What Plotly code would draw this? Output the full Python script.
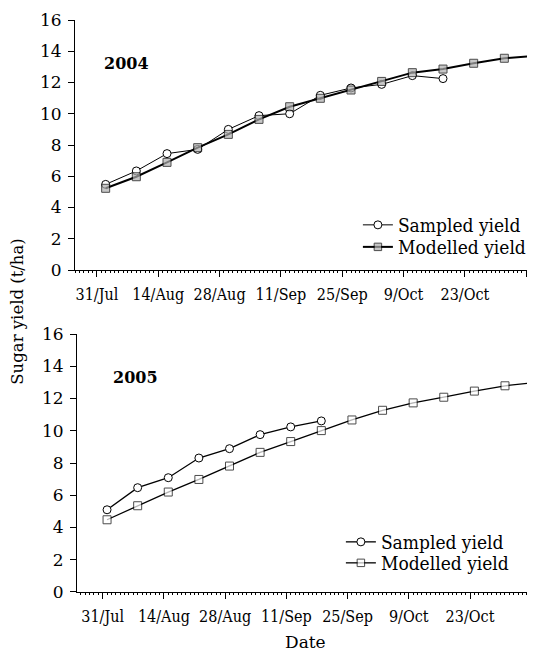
import plotly.graph_objects as go

# ---------------- data ----------------
dates_2004_sampled = ["2004-08-02", "2004-08-09", "2004-08-16", "2004-08-23", "2004-08-30",
                      "2004-09-06", "2004-09-13", "2004-09-20", "2004-09-27", "2004-10-04",
                      "2004-10-11", "2004-10-18"]
sampled_2004 = [5.48, 6.34, 7.45, 7.72, 9.00, 9.88, 10.00, 11.18, 11.65, 11.88, 12.44, 12.25]

dates_2004_modelled = ["2004-08-02", "2004-08-09", "2004-08-16", "2004-08-23", "2004-08-30",
                       "2004-09-06", "2004-09-13", "2004-09-20", "2004-09-27", "2004-10-04",
                       "2004-10-11", "2004-10-18", "2004-10-25", "2004-11-01", "2004-11-08"]
modelled_2004 = [5.23, 5.97, 6.89, 7.83, 8.68, 9.64, 10.45, 10.99, 11.52, 12.07,
                 12.63, 12.86, 13.23, 13.55, 13.70]

dates_2005_sampled = ["2005-08-01", "2005-08-08", "2005-08-15", "2005-08-22", "2005-08-29",
                      "2005-09-05", "2005-09-12", "2005-09-19"]
sampled_2005 = [5.10, 6.47, 7.09, 8.31, 8.89, 9.76, 10.24, 10.61]

dates_2005_modelled = ["2005-08-01", "2005-08-08", "2005-08-15", "2005-08-22", "2005-08-29",
                       "2005-09-05", "2005-09-12", "2005-09-19", "2005-09-26", "2005-10-03",
                       "2005-10-10", "2005-10-17", "2005-10-24", "2005-10-31", "2005-11-07"]
modelled_2005 = [4.48, 5.35, 6.20, 6.98, 7.81, 8.66, 9.33, 10.01, 10.67, 11.27,
                 11.73, 12.08, 12.46, 12.79, 13.00]

y_ticks = [0, 2, 4, 6, 8, 10, 12, 14, 16]
series_names = ["Sampled yield", "Modelled yield"]
panel_labels = ["2004", "2005"]
y_title = "Sugar yield (t/ha)"
x_title = "Date"

# ---------------- style ----------------
FONT = "DejaVu Serif"
FONT_C = "DejaVu Serif Condensed"
DAY_MS = 86400000

def msizes(n, size, hide_last):
    s = [size] * n
    if hide_last:
        s[-1] = 0
    return s

fig = go.Figure()

fig.add_trace(go.Scatter(
    x=dates_2004_sampled, y=sampled_2004, name=series_names[0], mode="lines+markers",
    line=dict(color="black", width=1),
    marker=dict(symbol="circle", size=8, color="white", line=dict(color="black", width=1)),
    xaxis="x", yaxis="y", legend="legend"))
fig.add_trace(go.Scatter(
    x=dates_2004_modelled, y=modelled_2004, name=series_names[1], mode="lines+markers",
    line=dict(color="black", width=2),
    marker=dict(symbol="square", size=msizes(len(modelled_2004), 8, True), color="#b0b0b0",
                line=dict(color="black", width=1)),
    xaxis="x", yaxis="y", legend="legend2"))

fig.add_trace(go.Scatter(
    x=dates_2005_sampled, y=sampled_2005, name=series_names[0], mode="lines+markers",
    line=dict(color="black", width=1.3),
    marker=dict(symbol="circle", size=8, color="white", line=dict(color="black", width=1)),
    xaxis="x2", yaxis="y2", legend="legend3"))
fig.add_trace(go.Scatter(
    x=dates_2005_modelled, y=modelled_2005, name=series_names[1], mode="lines+markers",
    line=dict(color="black", width=1.3),
    marker=dict(symbol="square", size=msizes(len(modelled_2005), 8, True), color="white",
                line=dict(color="black", width=1)),
    xaxis="x2", yaxis="y2", legend="legend4"))

def xaxis_cfg(rng, tick0, domain, anchor):
    return dict(
        type="date", range=rng, domain=domain, anchor=anchor,
        tick0=tick0, dtick=14 * DAY_MS, tickformat="%-d/%b", tickangle=0,
        ticks="outside", ticklen=6, tickwidth=1, tickcolor="black",
        ticklabelstandoff=4,
        minor=dict(ticks="outside", ticklen=2, tickwidth=1, tickcolor="black",
                   dtick=DAY_MS, tick0=tick0),
        showline=True, linecolor="black", linewidth=1,
        showgrid=False, zeroline=False,
        tickfont=dict(family=FONT_C, size=16, color="black"))

def yaxis_cfg(domain, anchor):
    return dict(
        range=[0, 16], domain=domain, anchor=anchor,
        tickvals=y_ticks, ticks="outside", ticklen=6, tickwidth=1, tickcolor="black",
        ticklabelstandoff=3,
        showline=True, linecolor="black", linewidth=1,
        showgrid=False, zeroline=False,
        tickfont=dict(family=FONT, size=17, color="black"))

legend_font = dict(family=FONT_C, size=19, color="black")

def leg(x, y):
    return dict(x=x, y=y, xanchor="left", yanchor="middle", font=legend_font,
                bgcolor="rgba(0,0,0,0)", borderwidth=0)

fig.update_layout(
    width=527, height=646,
    margin=dict(l=67, r=0, t=12, b=62),
    paper_bgcolor="white", plot_bgcolor="white",
    font=dict(family=FONT, color="black"),
    xaxis=xaxis_cfg(["2004-07-26", "2004-11-08"], "2004-07-31", [0, 1], "y"),
    yaxis=yaxis_cfg([0.5629, 1], "x"),
    xaxis2=xaxis_cfg(["2005-07-25 03:00", "2005-11-06 20:40"], "2005-07-31", [0.0043, 1], "y2"),
    yaxis2=yaxis_cfg([0, 0.451], "x2"),
    legend=leg(0.615, 0.6416),
    legend2=leg(0.615, 0.6031),
    legend3=leg(0.578, 0.0874),
    legend4=leg(0.578, 0.0507),
    showlegend=True,
    annotations=[
        dict(text="<b>%s</b>" % panel_labels[0], xref="x domain", yref="y domain",
             x=0.111, y=0.828, xanchor="center", yanchor="middle", showarrow=False,
             font=dict(family=FONT, size=16, color="black")),
        dict(text="<b>%s</b>" % panel_labels[1], xref="x2 domain", yref="y2 domain",
             x=0.127, y=0.833, xanchor="center", yanchor="middle", showarrow=False,
             font=dict(family=FONT, size=16, color="black")),
        dict(text=y_title, xref="paper", yref="paper", x=-0.124, y=0.49,
             xanchor="center", yanchor="middle",
             textangle=-90, showarrow=False, font=dict(family=FONT, size=16.5, color="black")),
        dict(text=x_title, xref="x2 domain", yref="paper", x=0.5, y=-0.0874,
             xanchor="center", yanchor="middle", showarrow=False,
             font=dict(family=FONT, size=17, color="black")),
    ],
)

fig.write_html("out.html")
